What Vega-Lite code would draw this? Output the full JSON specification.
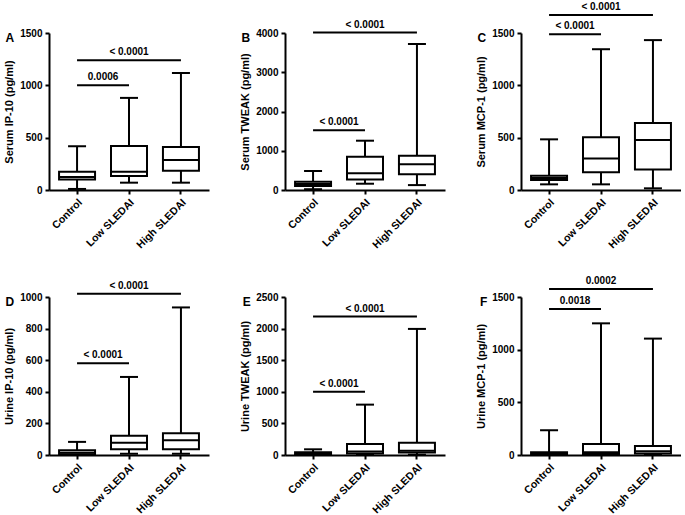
{
  "$schema": "https://vega.github.io/schema/vega-lite/v6.json",
  "background": "white",
  "padding": {"left": 3, "top": 2, "right": 0, "bottom": 0},
  "bounds": "flush",
  "columns": 3,
  "spacing": {"row": 107, "column": 76},
  "datasets": {
    "boxes": [
      {"panel": "A", "group": "Control", "min": 10, "q1": 100, "median": 125, "q3": 175, "max": 418},
      {"panel": "A", "group": "Low SLEDAI", "min": 70, "q1": 134, "median": 175, "q3": 420, "max": 880},
      {"panel": "A", "group": "High SLEDAI", "min": 70, "q1": 185, "median": 287, "q3": 412, "max": 1118},
      {"panel": "B", "group": "Control", "min": 20, "q1": 100, "median": 150, "q3": 210, "max": 484},
      {"panel": "B", "group": "Low SLEDAI", "min": 160, "q1": 265, "median": 424, "q3": 849, "max": 1256},
      {"panel": "B", "group": "High SLEDAI", "min": 125, "q1": 400, "median": 654, "q3": 875, "max": 3720},
      {"panel": "C", "group": "Control", "min": 54, "q1": 96, "median": 115, "q3": 137, "max": 484},
      {"panel": "C", "group": "Low SLEDAI", "min": 54, "q1": 170, "median": 302, "q3": 505, "max": 1345},
      {"panel": "C", "group": "High SLEDAI", "min": 16, "q1": 195, "median": 477, "q3": 640, "max": 1432},
      {"panel": "D", "group": "Control", "min": 0, "q1": 4, "median": 15, "q3": 30, "max": 83},
      {"panel": "D", "group": "Low SLEDAI", "min": 8, "q1": 36, "median": 78, "q3": 122, "max": 494},
      {"panel": "D", "group": "High SLEDAI", "min": 8, "q1": 36, "median": 94, "q3": 138, "max": 934},
      {"panel": "E", "group": "Control", "min": 0, "q1": 10, "median": 22, "q3": 45, "max": 90},
      {"panel": "E", "group": "Low SLEDAI", "min": 5, "q1": 25, "median": 55, "q3": 175, "max": 797},
      {"panel": "E", "group": "High SLEDAI", "min": 5, "q1": 40, "median": 68, "q3": 195, "max": 1995},
      {"panel": "F", "group": "Control", "min": 0, "q1": 5, "median": 12, "q3": 25, "max": 235},
      {"panel": "F", "group": "Low SLEDAI", "min": 0, "q1": 10, "median": 25, "q3": 105, "max": 1250},
      {"panel": "F", "group": "High SLEDAI", "min": 0, "q1": 15, "median": 35, "q3": 86, "max": 1105}
    ],
    "sig": [
      {"panel": "A", "pair": 1, "from": "Control", "to": "Low SLEDAI", "mid": "Control", "y": 1000, "label": "0.0006"},
      {"panel": "A", "pair": 2, "from": "Control", "to": "High SLEDAI", "mid": "Low SLEDAI", "y": 1240, "label": "< 0.0001"},
      {"panel": "B", "pair": 1, "from": "Control", "to": "Low SLEDAI", "mid": "Control", "y": 1520, "label": "< 0.0001"},
      {"panel": "B", "pair": 2, "from": "Control", "to": "High SLEDAI", "mid": "Low SLEDAI", "y": 4010, "label": "< 0.0001"},
      {"panel": "C", "pair": 1, "from": "Control", "to": "Low SLEDAI", "mid": "Control", "y": 1487, "label": "< 0.0001"},
      {"panel": "C", "pair": 2, "from": "Control", "to": "High SLEDAI", "mid": "Low SLEDAI", "y": 1671, "label": "< 0.0001"},
      {"panel": "D", "pair": 1, "from": "Control", "to": "Low SLEDAI", "mid": "Control", "y": 580, "label": "< 0.0001"},
      {"panel": "D", "pair": 2, "from": "Control", "to": "High SLEDAI", "mid": "Low SLEDAI", "y": 1020, "label": "< 0.0001"},
      {"panel": "E", "pair": 1, "from": "Control", "to": "Low SLEDAI", "mid": "Control", "y": 1000, "label": "< 0.0001"},
      {"panel": "E", "pair": 2, "from": "Control", "to": "High SLEDAI", "mid": "Low SLEDAI", "y": 2190, "label": "< 0.0001"},
      {"panel": "F", "pair": 1, "from": "Control", "to": "Low SLEDAI", "mid": "Control", "y": 1386, "label": "0.0018"},
      {"panel": "F", "pair": 2, "from": "Control", "to": "High SLEDAI", "mid": "Low SLEDAI", "y": 1576, "label": "0.0002"}
    ]
  },
  "concat": [
    {
      "width": 160, "height": 157, "title": {"text": "A"},
      "data": {"name": "boxes"},
      "transform": [{"filter": "datum.panel == 'A'"}],
      "encoding": {
        "x": {"field": "group", "type": "nominal", "scale": {"domain": ["Control", "Low SLEDAI", "High SLEDAI"], "paddingInner": 0, "paddingOuter": 0.04}, "axis": {"title": null}}
      },
      "layer": [
        {"mark": {"type": "rule", "color": "black", "strokeWidth": 2},
         "encoding": {"y": {"field": "min", "type": "quantitative", "scale": {"domain": [0, 1500], "nice": false}, "axis": {"values": [0, 500, 1000, 1500], "format": "d", "labelOverlap": false, "title": "Serum IP-10 (pg/ml)"}}, "y2": {"field": "max"}}},
        {"mark": {"type": "tick", "color": "black", "opacity": 1, "thickness": 2, "size": 18},
         "encoding": {"y": {"field": "min", "type": "quantitative", "axis": {"values": [0, 500, 1000, 1500], "format": "d", "labelOverlap": false, "title": "Serum IP-10 (pg/ml)"}}}},
        {"mark": {"type": "tick", "color": "black", "opacity": 1, "thickness": 2, "size": 18},
         "encoding": {"y": {"field": "max", "type": "quantitative", "axis": {"values": [0, 500, 1000, 1500], "format": "d", "labelOverlap": false, "title": "Serum IP-10 (pg/ml)"}}}},
        {"mark": {"type": "bar", "fill": "white", "stroke": "black", "opacity": 1, "strokeWidth": 2, "size": 36},
         "encoding": {"y": {"field": "q1", "type": "quantitative", "axis": {"values": [0, 500, 1000, 1500], "format": "d", "labelOverlap": false, "title": "Serum IP-10 (pg/ml)"}}, "y2": {"field": "q3"}}},
        {"mark": {"type": "tick", "color": "black", "opacity": 1, "thickness": 2, "size": 36},
         "encoding": {"y": {"field": "median", "type": "quantitative", "axis": {"values": [0, 500, 1000, 1500], "format": "d", "labelOverlap": false, "title": "Serum IP-10 (pg/ml)"}}}},
        {"data": {"name": "sig"}, "transform": [{"filter": "datum.panel == 'A'"}], "mark": {"type": "rule", "color": "black", "strokeWidth": 2},
         "encoding": {"x": {"field": "from", "type": "nominal", "axis": {"title": null}}, "x2": {"field": "to"}, "y": {"field": "y", "type": "quantitative", "axis": {"values": [0, 500, 1000, 1500], "format": "d", "labelOverlap": false, "title": "Serum IP-10 (pg/ml)"}}}},
        {"data": {"name": "sig"}, "transform": [{"filter": "datum.panel == 'A' && datum.pair == 1"}], "mark": {"type": "text", "color": "black", "fontWeight": "bold", "fontSize": 10, "baseline": "alphabetic", "dy": -5},
         "encoding": {"x": {"field": "mid", "type": "nominal", "bandPosition": 1, "axis": {"title": null}}, "y": {"field": "y", "type": "quantitative", "axis": {"values": [0, 500, 1000, 1500], "format": "d", "labelOverlap": false, "title": "Serum IP-10 (pg/ml)"}}, "text": {"field": "label"}}},
        {"data": {"name": "sig"}, "transform": [{"filter": "datum.panel == 'A' && datum.pair == 2"}], "mark": {"type": "text", "color": "black", "fontWeight": "bold", "fontSize": 10, "baseline": "alphabetic", "dy": -5},
         "encoding": {"x": {"field": "mid", "type": "nominal", "bandPosition": 0.5, "axis": {"title": null}}, "y": {"field": "y", "type": "quantitative", "axis": {"values": [0, 500, 1000, 1500], "format": "d", "labelOverlap": false, "title": "Serum IP-10 (pg/ml)"}}, "text": {"field": "label"}}}
      ]
    },
    {
      "width": 160, "height": 157, "title": {"text": "B"},
      "data": {"name": "boxes"},
      "transform": [{"filter": "datum.panel == 'B'"}],
      "encoding": {
        "x": {"field": "group", "type": "nominal", "scale": {"domain": ["Control", "Low SLEDAI", "High SLEDAI"], "paddingInner": 0, "paddingOuter": 0.04}, "axis": {"title": null}}
      },
      "layer": [
        {"mark": {"type": "rule", "color": "black", "strokeWidth": 2},
         "encoding": {"y": {"field": "min", "type": "quantitative", "scale": {"domain": [0, 4000], "nice": false}, "axis": {"values": [0, 1000, 2000, 3000, 4000], "format": "d", "labelOverlap": false, "title": "Serum TWEAK (pg/ml)"}}, "y2": {"field": "max"}}},
        {"mark": {"type": "tick", "color": "black", "opacity": 1, "thickness": 2, "size": 18},
         "encoding": {"y": {"field": "min", "type": "quantitative", "axis": {"values": [0, 1000, 2000, 3000, 4000], "format": "d", "labelOverlap": false, "title": "Serum TWEAK (pg/ml)"}}}},
        {"mark": {"type": "tick", "color": "black", "opacity": 1, "thickness": 2, "size": 18},
         "encoding": {"y": {"field": "max", "type": "quantitative", "axis": {"values": [0, 1000, 2000, 3000, 4000], "format": "d", "labelOverlap": false, "title": "Serum TWEAK (pg/ml)"}}}},
        {"mark": {"type": "bar", "fill": "white", "stroke": "black", "opacity": 1, "strokeWidth": 2, "size": 36},
         "encoding": {"y": {"field": "q1", "type": "quantitative", "axis": {"values": [0, 1000, 2000, 3000, 4000], "format": "d", "labelOverlap": false, "title": "Serum TWEAK (pg/ml)"}}, "y2": {"field": "q3"}}},
        {"mark": {"type": "tick", "color": "black", "opacity": 1, "thickness": 2, "size": 36},
         "encoding": {"y": {"field": "median", "type": "quantitative", "axis": {"values": [0, 1000, 2000, 3000, 4000], "format": "d", "labelOverlap": false, "title": "Serum TWEAK (pg/ml)"}}}},
        {"data": {"name": "sig"}, "transform": [{"filter": "datum.panel == 'B'"}], "mark": {"type": "rule", "color": "black", "strokeWidth": 2},
         "encoding": {"x": {"field": "from", "type": "nominal", "axis": {"title": null}}, "x2": {"field": "to"}, "y": {"field": "y", "type": "quantitative", "axis": {"values": [0, 1000, 2000, 3000, 4000], "format": "d", "labelOverlap": false, "title": "Serum TWEAK (pg/ml)"}}}},
        {"data": {"name": "sig"}, "transform": [{"filter": "datum.panel == 'B' && datum.pair == 1"}], "mark": {"type": "text", "color": "black", "fontWeight": "bold", "fontSize": 10, "baseline": "alphabetic", "dy": -5},
         "encoding": {"x": {"field": "mid", "type": "nominal", "bandPosition": 1, "axis": {"title": null}}, "y": {"field": "y", "type": "quantitative", "axis": {"values": [0, 1000, 2000, 3000, 4000], "format": "d", "labelOverlap": false, "title": "Serum TWEAK (pg/ml)"}}, "text": {"field": "label"}}},
        {"data": {"name": "sig"}, "transform": [{"filter": "datum.panel == 'B' && datum.pair == 2"}], "mark": {"type": "text", "color": "black", "fontWeight": "bold", "fontSize": 10, "baseline": "alphabetic", "dy": -5},
         "encoding": {"x": {"field": "mid", "type": "nominal", "bandPosition": 0.5, "axis": {"title": null}}, "y": {"field": "y", "type": "quantitative", "axis": {"values": [0, 1000, 2000, 3000, 4000], "format": "d", "labelOverlap": false, "title": "Serum TWEAK (pg/ml)"}}, "text": {"field": "label"}}}
      ]
    },
    {
      "width": 160, "height": 157, "title": {"text": "C"},
      "data": {"name": "boxes"},
      "transform": [{"filter": "datum.panel == 'C'"}],
      "encoding": {
        "x": {"field": "group", "type": "nominal", "scale": {"domain": ["Control", "Low SLEDAI", "High SLEDAI"], "paddingInner": 0, "paddingOuter": 0.04}, "axis": {"title": null}}
      },
      "layer": [
        {"mark": {"type": "rule", "color": "black", "strokeWidth": 2},
         "encoding": {"y": {"field": "min", "type": "quantitative", "scale": {"domain": [0, 1500], "nice": false}, "axis": {"values": [0, 500, 1000, 1500], "format": "d", "labelOverlap": false, "title": "Serum MCP-1 (pg/ml)"}}, "y2": {"field": "max"}}},
        {"mark": {"type": "tick", "color": "black", "opacity": 1, "thickness": 2, "size": 18},
         "encoding": {"y": {"field": "min", "type": "quantitative", "axis": {"values": [0, 500, 1000, 1500], "format": "d", "labelOverlap": false, "title": "Serum MCP-1 (pg/ml)"}}}},
        {"mark": {"type": "tick", "color": "black", "opacity": 1, "thickness": 2, "size": 18},
         "encoding": {"y": {"field": "max", "type": "quantitative", "axis": {"values": [0, 500, 1000, 1500], "format": "d", "labelOverlap": false, "title": "Serum MCP-1 (pg/ml)"}}}},
        {"mark": {"type": "bar", "fill": "white", "stroke": "black", "opacity": 1, "strokeWidth": 2, "size": 36},
         "encoding": {"y": {"field": "q1", "type": "quantitative", "axis": {"values": [0, 500, 1000, 1500], "format": "d", "labelOverlap": false, "title": "Serum MCP-1 (pg/ml)"}}, "y2": {"field": "q3"}}},
        {"mark": {"type": "tick", "color": "black", "opacity": 1, "thickness": 2, "size": 36},
         "encoding": {"y": {"field": "median", "type": "quantitative", "axis": {"values": [0, 500, 1000, 1500], "format": "d", "labelOverlap": false, "title": "Serum MCP-1 (pg/ml)"}}}},
        {"data": {"name": "sig"}, "transform": [{"filter": "datum.panel == 'C'"}], "mark": {"type": "rule", "color": "black", "strokeWidth": 2},
         "encoding": {"x": {"field": "from", "type": "nominal", "axis": {"title": null}}, "x2": {"field": "to"}, "y": {"field": "y", "type": "quantitative", "axis": {"values": [0, 500, 1000, 1500], "format": "d", "labelOverlap": false, "title": "Serum MCP-1 (pg/ml)"}}}},
        {"data": {"name": "sig"}, "transform": [{"filter": "datum.panel == 'C' && datum.pair == 1"}], "mark": {"type": "text", "color": "black", "fontWeight": "bold", "fontSize": 10, "baseline": "alphabetic", "dy": -5},
         "encoding": {"x": {"field": "mid", "type": "nominal", "bandPosition": 1, "axis": {"title": null}}, "y": {"field": "y", "type": "quantitative", "axis": {"values": [0, 500, 1000, 1500], "format": "d", "labelOverlap": false, "title": "Serum MCP-1 (pg/ml)"}}, "text": {"field": "label"}}},
        {"data": {"name": "sig"}, "transform": [{"filter": "datum.panel == 'C' && datum.pair == 2"}], "mark": {"type": "text", "color": "black", "fontWeight": "bold", "fontSize": 10, "baseline": "alphabetic", "dy": -5},
         "encoding": {"x": {"field": "mid", "type": "nominal", "bandPosition": 0.5, "axis": {"title": null}}, "y": {"field": "y", "type": "quantitative", "axis": {"values": [0, 500, 1000, 1500], "format": "d", "labelOverlap": false, "title": "Serum MCP-1 (pg/ml)"}}, "text": {"field": "label"}}}
      ]
    },
    {
      "width": 160, "height": 158, "title": {"text": "D"},
      "data": {"name": "boxes"},
      "transform": [{"filter": "datum.panel == 'D'"}],
      "encoding": {
        "x": {"field": "group", "type": "nominal", "scale": {"domain": ["Control", "Low SLEDAI", "High SLEDAI"], "paddingInner": 0, "paddingOuter": 0.04}, "axis": {"title": null}}
      },
      "layer": [
        {"mark": {"type": "rule", "color": "black", "strokeWidth": 2},
         "encoding": {"y": {"field": "min", "type": "quantitative", "scale": {"domain": [0, 1000], "nice": false}, "axis": {"values": [0, 200, 400, 600, 800, 1000], "format": "d", "labelOverlap": false, "title": "Urine IP-10 (pg/ml)"}}, "y2": {"field": "max"}}},
        {"mark": {"type": "tick", "color": "black", "opacity": 1, "thickness": 2, "size": 18},
         "encoding": {"y": {"field": "min", "type": "quantitative", "axis": {"values": [0, 200, 400, 600, 800, 1000], "format": "d", "labelOverlap": false, "title": "Urine IP-10 (pg/ml)"}}}},
        {"mark": {"type": "tick", "color": "black", "opacity": 1, "thickness": 2, "size": 18},
         "encoding": {"y": {"field": "max", "type": "quantitative", "axis": {"values": [0, 200, 400, 600, 800, 1000], "format": "d", "labelOverlap": false, "title": "Urine IP-10 (pg/ml)"}}}},
        {"mark": {"type": "bar", "fill": "white", "stroke": "black", "opacity": 1, "strokeWidth": 2, "size": 36},
         "encoding": {"y": {"field": "q1", "type": "quantitative", "axis": {"values": [0, 200, 400, 600, 800, 1000], "format": "d", "labelOverlap": false, "title": "Urine IP-10 (pg/ml)"}}, "y2": {"field": "q3"}}},
        {"mark": {"type": "tick", "color": "black", "opacity": 1, "thickness": 2, "size": 36},
         "encoding": {"y": {"field": "median", "type": "quantitative", "axis": {"values": [0, 200, 400, 600, 800, 1000], "format": "d", "labelOverlap": false, "title": "Urine IP-10 (pg/ml)"}}}},
        {"data": {"name": "sig"}, "transform": [{"filter": "datum.panel == 'D'"}], "mark": {"type": "rule", "color": "black", "strokeWidth": 2},
         "encoding": {"x": {"field": "from", "type": "nominal", "axis": {"title": null}}, "x2": {"field": "to"}, "y": {"field": "y", "type": "quantitative", "axis": {"values": [0, 200, 400, 600, 800, 1000], "format": "d", "labelOverlap": false, "title": "Urine IP-10 (pg/ml)"}}}},
        {"data": {"name": "sig"}, "transform": [{"filter": "datum.panel == 'D' && datum.pair == 1"}], "mark": {"type": "text", "color": "black", "fontWeight": "bold", "fontSize": 10, "baseline": "alphabetic", "dy": -5},
         "encoding": {"x": {"field": "mid", "type": "nominal", "bandPosition": 1, "axis": {"title": null}}, "y": {"field": "y", "type": "quantitative", "axis": {"values": [0, 200, 400, 600, 800, 1000], "format": "d", "labelOverlap": false, "title": "Urine IP-10 (pg/ml)"}}, "text": {"field": "label"}}},
        {"data": {"name": "sig"}, "transform": [{"filter": "datum.panel == 'D' && datum.pair == 2"}], "mark": {"type": "text", "color": "black", "fontWeight": "bold", "fontSize": 10, "baseline": "alphabetic", "dy": -5},
         "encoding": {"x": {"field": "mid", "type": "nominal", "bandPosition": 0.5, "axis": {"title": null}}, "y": {"field": "y", "type": "quantitative", "axis": {"values": [0, 200, 400, 600, 800, 1000], "format": "d", "labelOverlap": false, "title": "Urine IP-10 (pg/ml)"}}, "text": {"field": "label"}}}
      ]
    },
    {
      "width": 160, "height": 158, "title": {"text": "E"},
      "data": {"name": "boxes"},
      "transform": [{"filter": "datum.panel == 'E'"}],
      "encoding": {
        "x": {"field": "group", "type": "nominal", "scale": {"domain": ["Control", "Low SLEDAI", "High SLEDAI"], "paddingInner": 0, "paddingOuter": 0.04}, "axis": {"title": null}}
      },
      "layer": [
        {"mark": {"type": "rule", "color": "black", "strokeWidth": 2},
         "encoding": {"y": {"field": "min", "type": "quantitative", "scale": {"domain": [0, 2500], "nice": false}, "axis": {"values": [0, 500, 1000, 1500, 2000, 2500], "format": "d", "labelOverlap": false, "title": "Urine TWEAK (pg/ml)"}}, "y2": {"field": "max"}}},
        {"mark": {"type": "tick", "color": "black", "opacity": 1, "thickness": 2, "size": 18},
         "encoding": {"y": {"field": "min", "type": "quantitative", "axis": {"values": [0, 500, 1000, 1500, 2000, 2500], "format": "d", "labelOverlap": false, "title": "Urine TWEAK (pg/ml)"}}}},
        {"mark": {"type": "tick", "color": "black", "opacity": 1, "thickness": 2, "size": 18},
         "encoding": {"y": {"field": "max", "type": "quantitative", "axis": {"values": [0, 500, 1000, 1500, 2000, 2500], "format": "d", "labelOverlap": false, "title": "Urine TWEAK (pg/ml)"}}}},
        {"mark": {"type": "bar", "fill": "white", "stroke": "black", "opacity": 1, "strokeWidth": 2, "size": 36},
         "encoding": {"y": {"field": "q1", "type": "quantitative", "axis": {"values": [0, 500, 1000, 1500, 2000, 2500], "format": "d", "labelOverlap": false, "title": "Urine TWEAK (pg/ml)"}}, "y2": {"field": "q3"}}},
        {"mark": {"type": "tick", "color": "black", "opacity": 1, "thickness": 2, "size": 36},
         "encoding": {"y": {"field": "median", "type": "quantitative", "axis": {"values": [0, 500, 1000, 1500, 2000, 2500], "format": "d", "labelOverlap": false, "title": "Urine TWEAK (pg/ml)"}}}},
        {"data": {"name": "sig"}, "transform": [{"filter": "datum.panel == 'E'"}], "mark": {"type": "rule", "color": "black", "strokeWidth": 2},
         "encoding": {"x": {"field": "from", "type": "nominal", "axis": {"title": null}}, "x2": {"field": "to"}, "y": {"field": "y", "type": "quantitative", "axis": {"values": [0, 500, 1000, 1500, 2000, 2500], "format": "d", "labelOverlap": false, "title": "Urine TWEAK (pg/ml)"}}}},
        {"data": {"name": "sig"}, "transform": [{"filter": "datum.panel == 'E' && datum.pair == 1"}], "mark": {"type": "text", "color": "black", "fontWeight": "bold", "fontSize": 10, "baseline": "alphabetic", "dy": -5},
         "encoding": {"x": {"field": "mid", "type": "nominal", "bandPosition": 1, "axis": {"title": null}}, "y": {"field": "y", "type": "quantitative", "axis": {"values": [0, 500, 1000, 1500, 2000, 2500], "format": "d", "labelOverlap": false, "title": "Urine TWEAK (pg/ml)"}}, "text": {"field": "label"}}},
        {"data": {"name": "sig"}, "transform": [{"filter": "datum.panel == 'E' && datum.pair == 2"}], "mark": {"type": "text", "color": "black", "fontWeight": "bold", "fontSize": 10, "baseline": "alphabetic", "dy": -5},
         "encoding": {"x": {"field": "mid", "type": "nominal", "bandPosition": 0.5, "axis": {"title": null}}, "y": {"field": "y", "type": "quantitative", "axis": {"values": [0, 500, 1000, 1500, 2000, 2500], "format": "d", "labelOverlap": false, "title": "Urine TWEAK (pg/ml)"}}, "text": {"field": "label"}}}
      ]
    },
    {
      "width": 160, "height": 158, "title": {"text": "F"},
      "data": {"name": "boxes"},
      "transform": [{"filter": "datum.panel == 'F'"}],
      "encoding": {
        "x": {"field": "group", "type": "nominal", "scale": {"domain": ["Control", "Low SLEDAI", "High SLEDAI"], "paddingInner": 0, "paddingOuter": 0.04}, "axis": {"title": null}}
      },
      "layer": [
        {"mark": {"type": "rule", "color": "black", "strokeWidth": 2},
         "encoding": {"y": {"field": "min", "type": "quantitative", "scale": {"domain": [0, 1500], "nice": false}, "axis": {"values": [0, 500, 1000, 1500], "format": "d", "labelOverlap": false, "title": "Urine MCP-1 (pg/ml)"}}, "y2": {"field": "max"}}},
        {"mark": {"type": "tick", "color": "black", "opacity": 1, "thickness": 2, "size": 18},
         "encoding": {"y": {"field": "min", "type": "quantitative", "axis": {"values": [0, 500, 1000, 1500], "format": "d", "labelOverlap": false, "title": "Urine MCP-1 (pg/ml)"}}}},
        {"mark": {"type": "tick", "color": "black", "opacity": 1, "thickness": 2, "size": 18},
         "encoding": {"y": {"field": "max", "type": "quantitative", "axis": {"values": [0, 500, 1000, 1500], "format": "d", "labelOverlap": false, "title": "Urine MCP-1 (pg/ml)"}}}},
        {"mark": {"type": "bar", "fill": "white", "stroke": "black", "opacity": 1, "strokeWidth": 2, "size": 36},
         "encoding": {"y": {"field": "q1", "type": "quantitative", "axis": {"values": [0, 500, 1000, 1500], "format": "d", "labelOverlap": false, "title": "Urine MCP-1 (pg/ml)"}}, "y2": {"field": "q3"}}},
        {"mark": {"type": "tick", "color": "black", "opacity": 1, "thickness": 2, "size": 36},
         "encoding": {"y": {"field": "median", "type": "quantitative", "axis": {"values": [0, 500, 1000, 1500], "format": "d", "labelOverlap": false, "title": "Urine MCP-1 (pg/ml)"}}}},
        {"data": {"name": "sig"}, "transform": [{"filter": "datum.panel == 'F'"}], "mark": {"type": "rule", "color": "black", "strokeWidth": 2},
         "encoding": {"x": {"field": "from", "type": "nominal", "axis": {"title": null}}, "x2": {"field": "to"}, "y": {"field": "y", "type": "quantitative", "axis": {"values": [0, 500, 1000, 1500], "format": "d", "labelOverlap": false, "title": "Urine MCP-1 (pg/ml)"}}}},
        {"data": {"name": "sig"}, "transform": [{"filter": "datum.panel == 'F' && datum.pair == 1"}], "mark": {"type": "text", "color": "black", "fontWeight": "bold", "fontSize": 10, "baseline": "alphabetic", "dy": -5},
         "encoding": {"x": {"field": "mid", "type": "nominal", "bandPosition": 1, "axis": {"title": null}}, "y": {"field": "y", "type": "quantitative", "axis": {"values": [0, 500, 1000, 1500], "format": "d", "labelOverlap": false, "title": "Urine MCP-1 (pg/ml)"}}, "text": {"field": "label"}}},
        {"data": {"name": "sig"}, "transform": [{"filter": "datum.panel == 'F' && datum.pair == 2"}], "mark": {"type": "text", "color": "black", "fontWeight": "bold", "fontSize": 10, "baseline": "alphabetic", "dy": -5},
         "encoding": {"x": {"field": "mid", "type": "nominal", "bandPosition": 0.5, "axis": {"title": null}}, "y": {"field": "y", "type": "quantitative", "axis": {"values": [0, 500, 1000, 1500], "format": "d", "labelOverlap": false, "title": "Urine MCP-1 (pg/ml)"}}, "text": {"field": "label"}}}
      ]
    }
  ],
  "config": {
    "font": "Liberation Sans",
    "view": {"stroke": null},
    "axis": {"domainColor": "black", "domainWidth": 2, "tickColor": "black", "tickWidth": 2, "tickSize": 4, "labelColor": "black", "labelFontSize": 10, "labelFontWeight": "bold", "labelPadding": 3, "titleColor": "black", "titleFontSize": 11, "titleFontWeight": "bold", "titlePadding": 5, "grid": false},
    "axisX": {"labelAngle": -45, "labelFontSize": 10.5},
    "title": {"orient": "left", "anchor": "end", "angle": 0, "frame": "group", "align": "right", "baseline": "middle", "fontSize": 12, "fontWeight": "bold", "color": "black", "offset": -19}
  }
}
